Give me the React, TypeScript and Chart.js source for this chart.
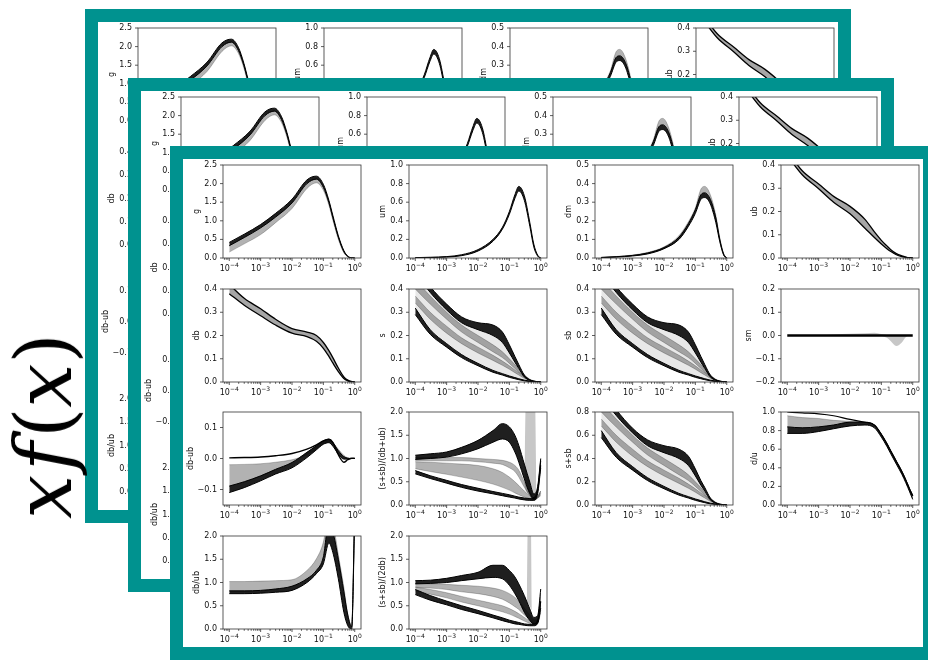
import React, { useEffect, useRef } from 'react';
import { Chart, registerables } from 'chart.js';
Chart.register(...registerables);

const TEAL = '#00928F';
const FONT = '"DejaVu Sans", sans-serif';

// common x grid (momentum fraction)
const XS = [1e-4, 3e-4, 1e-3, 3e-3, 1e-2, 3e-2, 0.06, 0.1, 0.15, 0.2, 0.3, 0.45, 0.6, 0.8, 1];
const XTICKS = [1e-4, 1e-3, 1e-2, 1e-1, 1];
const XTICK_EXP = ['−4', '−3', '−2', '−1', '0'];

// y tick sets
const YT_G = [0, 0.5, 1, 1.5, 2, 2.5];
const YT_1 = [0, 0.2, 0.4, 0.6, 0.8, 1];
const YT_05 = [0, 0.1, 0.2, 0.3, 0.4, 0.5];
const YT_04 = [0, 0.1, 0.2, 0.3, 0.4];
const YT_SM = [-0.2, -0.1, 0, 0.1, 0.2];
const YT_DBUB = [-0.1, 0, 0.1];
const YT_2 = [0, 0.5, 1, 1.5, 2];
const YT_08 = [0, 0.2, 0.4, 0.6, 0.8];

// g
const gUp = [0.42, 0.64, 0.9, 1.2, 1.58, 2.1, 2.2, 1.98, 1.55, 1.15, 0.6, 0.2, 0.05, 0.005, 0];
const gMid = [0.33, 0.55, 0.81, 1.1, 1.48, 2.0, 2.12, 1.9, 1.49, 1.09, 0.56, 0.17, 0.04, 0.003, 0];
const gLo = [0.16, 0.38, 0.63, 0.95, 1.33, 1.87, 2.02, 1.82, 1.42, 1.02, 0.5, 0.14, 0.03, 0, 0];
// um
const umUp = [0.004, 0.008, 0.015, 0.035, 0.09, 0.2, 0.33, 0.5, 0.68, 0.77, 0.67, 0.38, 0.15, 0.03, 0];
const umLo = [0.002, 0.005, 0.01, 0.025, 0.075, 0.18, 0.31, 0.47, 0.64, 0.72, 0.62, 0.34, 0.12, 0.02, 0];
// dm
const dmUp = [0.004, 0.008, 0.016, 0.03, 0.06, 0.12, 0.195, 0.27, 0.37, 0.385, 0.34, 0.23, 0.11, 0.025, 0];
const dmMid = [0.003, 0.007, 0.014, 0.027, 0.056, 0.112, 0.185, 0.26, 0.34, 0.35, 0.315, 0.215, 0.1, 0.02, 0];
const dmLo = [0.002, 0.005, 0.011, 0.022, 0.05, 0.1, 0.17, 0.24, 0.315, 0.325, 0.29, 0.19, 0.088, 0.015, 0];
// ub
const ubUp = [0.46, 0.375, 0.318, 0.265, 0.222, 0.166, 0.112, 0.076, 0.052, 0.036, 0.019, 0.009, 0.004, 0.001, 0];
const ubLo = [0.44, 0.358, 0.298, 0.24, 0.19, 0.128, 0.088, 0.06, 0.04, 0.028, 0.014, 0.006, 0.003, 0.001, 0];
// db
const dbUp = [0.42, 0.36, 0.315, 0.27, 0.23, 0.215, 0.2, 0.17, 0.135, 0.105, 0.06, 0.022, 0.008, 0.002, 0];
const dbLo = [0.38, 0.33, 0.285, 0.245, 0.21, 0.195, 0.175, 0.145, 0.11, 0.082, 0.045, 0.015, 0.005, 0, 0];
// s (and sb)
const sTopUp = [0.5, 0.41, 0.335, 0.28, 0.255, 0.245, 0.215, 0.16, 0.11, 0.075, 0.03, 0.01, 0.004, 0.001, 0];
const sTopLo = [0.47, 0.385, 0.31, 0.255, 0.225, 0.2, 0.17, 0.125, 0.085, 0.058, 0.022, 0.007, 0.003, 0.001, 0];
const sG1Up = [0.44, 0.37, 0.3, 0.245, 0.2, 0.16, 0.13, 0.1, 0.075, 0.055, 0.03, 0.012, 0.005, 0.001, 0];
const sG1Lo = [0.4, 0.335, 0.27, 0.215, 0.17, 0.13, 0.105, 0.08, 0.058, 0.042, 0.022, 0.008, 0.003, 0.001, 0];
const sG2Up = [0.37, 0.3, 0.24, 0.19, 0.15, 0.115, 0.09, 0.07, 0.052, 0.04, 0.022, 0.008, 0.003, 0, 0];
const sG2Lo = [0.34, 0.27, 0.21, 0.165, 0.125, 0.093, 0.072, 0.055, 0.04, 0.03, 0.016, 0.006, 0.002, 0, 0];
const sBotUp = [0.318, 0.225, 0.165, 0.118, 0.08, 0.05, 0.036, 0.026, 0.019, 0.014, 0.008, 0.004, 0.002, 0.001, 0];
const sBotLo = [0.29, 0.205, 0.15, 0.105, 0.07, 0.042, 0.03, 0.02, 0.014, 0.01, 0.005, 0.002, 0.001, 0, 0];
// sm
const smZero = [0, 0, 0, 0, 0, 0, 0, 0, 0, 0, 0, 0, 0, 0, 0];
const smUp = [0, 0, 0, 0.004, 0.007, 0.01, 0.012, 0.006, 0.002, 0, 0, 0, 0, 0, 0];
const smLo = [0, 0, 0, 0, 0, 0, 0, -0.002, -0.01, -0.025, -0.045, -0.03, -0.008, 0, 0];
// db-ub
const dbubTop = [0.002, 0.003, 0.005, 0.009, 0.016, 0.03, 0.044, 0.057, 0.062, 0.052, 0.012, -0.012, -0.004, 0.001, 0.001];
const dbubGrayUp = [-0.02, -0.019, -0.017, -0.012, -0.004, 0.012, 0.03, 0.048, 0.055, 0.05, 0.03, 0.01, 0.002, 0, 0];
const dbubBlkUp = [-0.089, -0.075, -0.056, -0.035, -0.013, 0.02, 0.041, 0.057, 0.062, 0.052, 0.025, 0.006, 0.001, 0, 0];
const dbubBlkLo = [-0.11, -0.094, -0.072, -0.05, -0.03, 0.003, 0.028, 0.046, 0.051, 0.04, 0.014, -0.002, -0.002, 0, 0];
// (s+sb)/(db+ub)
const r1TopUp = [1.07, 1.1, 1.14, 1.24, 1.39, 1.6, 1.75, 1.68, 1.5, 1.28, 0.88, 0.49, 0.24, 0.4, 1.0];
const r1TopLo = [0.98, 1.0, 1.03, 1.1, 1.21, 1.35, 1.42, 1.35, 1.14, 0.92, 0.56, 0.24, 0.13, 0.3, 0.85];
const r1AUp = [1.02, 1.02, 1.02, 1.02, 1.0, 0.98, 0.96, 0.92, 0.85, 0.75, 0.5, 0.28, 0.16, 0.2, 0.3];
const r1ALo = [0.95, 0.95, 0.95, 0.95, 0.93, 0.9, 0.87, 0.8, 0.72, 0.6, 0.38, 0.2, 0.12, 0.15, 0.2];
const r1BUp = [0.93, 0.92, 0.9, 0.88, 0.85, 0.78, 0.7, 0.6, 0.5, 0.42, 0.3, 0.2, 0.14, 0.18, 0.3];
const r1BLo = [0.78, 0.72, 0.66, 0.6, 0.53, 0.45, 0.38, 0.32, 0.26, 0.22, 0.17, 0.13, 0.1, 0.15, 0.25];
const r1BotUp = [0.74, 0.63, 0.53, 0.44, 0.36, 0.29, 0.25, 0.22, 0.19, 0.17, 0.15, 0.14, 0.16, 0.35, 0.95];
const r1BotLo = [0.67, 0.57, 0.47, 0.38, 0.3, 0.24, 0.2, 0.17, 0.15, 0.13, 0.11, 0.1, 0.1, 0.25, 0.8];
const r1SprayX = [0.3, 0.34, 0.65, 0.72];
const r1SprayUp = [0.5, 2.4, 2.4, 0.5];
const r1SprayLo = [0.45, 0.3, 0.2, 0.3];
// s+sb
const ssTopUp = [1.0, 0.82, 0.66, 0.56, 0.51, 0.48, 0.42, 0.31, 0.21, 0.15, 0.06, 0.02, 0.008, 0.002, 0];
const ssTopLo = [0.94, 0.77, 0.62, 0.51, 0.45, 0.4, 0.34, 0.25, 0.17, 0.12, 0.045, 0.014, 0.005, 0, 0];
const ssG1Up = [0.88, 0.74, 0.6, 0.49, 0.4, 0.32, 0.26, 0.2, 0.15, 0.11, 0.06, 0.024, 0.01, 0.002, 0];
const ssG1Lo = [0.8, 0.67, 0.54, 0.43, 0.34, 0.26, 0.21, 0.16, 0.116, 0.084, 0.044, 0.016, 0.006, 0.002, 0];
const ssG2Up = [0.74, 0.6, 0.48, 0.38, 0.3, 0.23, 0.18, 0.14, 0.104, 0.08, 0.044, 0.016, 0.006, 0, 0];
const ssG2Lo = [0.68, 0.54, 0.42, 0.33, 0.25, 0.186, 0.144, 0.11, 0.08, 0.06, 0.032, 0.012, 0.004, 0, 0];
const ssBotUp = [0.64, 0.45, 0.33, 0.235, 0.16, 0.1, 0.072, 0.052, 0.038, 0.028, 0.016, 0.008, 0.004, 0.001, 0];
const ssBotLo = [0.58, 0.41, 0.3, 0.21, 0.14, 0.085, 0.06, 0.04, 0.028, 0.02, 0.01, 0.005, 0.002, 0, 0];
// d/u
const duTop = [1.0, 0.99, 0.98, 0.96, 0.92, 0.89, 0.86, 0.76, 0.66, 0.58, 0.47, 0.36, 0.27, 0.17, 0.1];
const duGrayUp = [0.96, 0.94, 0.93, 0.91, 0.9, 0.89, 0.86, 0.76, 0.66, 0.58, 0.47, 0.36, 0.27, 0.17, 0.1];
const duBlkUp = [0.84, 0.83, 0.84, 0.86, 0.89, 0.89, 0.86, 0.76, 0.66, 0.58, 0.47, 0.36, 0.27, 0.17, 0.1];
const duBlkLo = [0.77, 0.77, 0.79, 0.82, 0.85, 0.86, 0.83, 0.73, 0.63, 0.55, 0.44, 0.33, 0.24, 0.14, 0.06];
// db/ub
const r2GrayUp = [1.02, 1.02, 1.03, 1.04, 1.06, 1.26, 1.51, 1.87, 2.5, 2.3, 1.6, 0.9, 0.33, 0.06, 2.7];
const r2BlkUp = [0.82, 0.82, 0.83, 0.86, 0.92, 1.08, 1.26, 1.55, 2.3, 2.1, 1.5, 0.8, 0.3, 0.05, 2.6];
const r2BlkLo = [0.76, 0.76, 0.77, 0.79, 0.83, 1.0, 1.19, 1.4, 1.85, 1.65, 1.08, 0.36, 0.07, 0.0, 2.4];
// (s+sb)/(2db)
const r3TopUp = [1.04, 1.05, 1.09, 1.15, 1.22, 1.37, 1.37, 1.26, 1.12, 0.97, 0.72, 0.43, 0.25, 0.29, 0.86];
const r3TopLo = [0.97, 0.98, 1.0, 1.04, 1.08, 1.11, 1.08, 0.94, 0.76, 0.61, 0.36, 0.18, 0.11, 0.14, 0.58];
const r3AUp = [0.98, 0.97, 0.96, 0.94, 0.92, 0.88, 0.83, 0.76, 0.68, 0.6, 0.45, 0.3, 0.2, 0.2, 0.5];
const r3ALo = [0.9, 0.88, 0.85, 0.8, 0.76, 0.7, 0.64, 0.56, 0.48, 0.42, 0.3, 0.2, 0.13, 0.15, 0.4];
const r3BUp = [0.9, 0.85, 0.78, 0.7, 0.62, 0.55, 0.5, 0.44, 0.38, 0.33, 0.25, 0.17, 0.12, 0.15, 0.4];
const r3BLo = [0.82, 0.75, 0.67, 0.58, 0.5, 0.42, 0.37, 0.32, 0.27, 0.23, 0.17, 0.12, 0.09, 0.12, 0.35];
const r3BotUp = [0.85, 0.72, 0.6, 0.5, 0.4, 0.3, 0.24, 0.19, 0.16, 0.14, 0.11, 0.1, 0.11, 0.2, 0.6];
const r3BotLo = [0.74, 0.62, 0.52, 0.42, 0.33, 0.24, 0.18, 0.14, 0.11, 0.1, 0.08, 0.07, 0.07, 0.12, 0.45];
const r3SprayX = [0.36, 0.39, 0.48, 0.52];
const r3SprayUp = [0.6, 2.4, 2.4, 0.5];
const r3SprayLo = [0.5, 0.55, 0.45, 0.4];

type Arr = (number | null)[];
type Kind = 'k' | 'gk' | 'g' | 'l' | 'sp' | 'line';
type Band = { up: Arr; lo?: Arr; kind: Kind; w?: number; xs?: number[] };
type PlotSpec = { label: string; min: number; max: number; ticks: number[]; bands: Band[] };

const PLOTS: PlotSpec[] = [
  { label: 'g', min: 0, max: 2.5, ticks: YT_G, bands: [
    { up: gMid, lo: gLo, kind: 'g' },
    { up: gUp, lo: gMid, kind: 'k' },
  ] },
  { label: 'um', min: 0, max: 1, ticks: YT_1, bands: [{ up: umUp, lo: umLo, kind: 'k' }] },
  { label: 'dm', min: 0, max: 0.5, ticks: YT_05, bands: [
    { up: dmUp, lo: dmMid, kind: 'g' },
    { up: dmMid, lo: dmLo, kind: 'k' },
  ] },
  { label: 'ub', min: 0, max: 0.4, ticks: YT_04, bands: [{ up: ubUp, lo: ubLo, kind: 'gk' }] },
  { label: 'db', min: 0, max: 0.4, ticks: YT_04, bands: [{ up: dbUp, lo: dbLo, kind: 'gk' }] },
  { label: 's', min: 0, max: 0.4, ticks: YT_04, bands: [
    { up: sTopLo, lo: sBotUp, kind: 'l' },
    { up: sG1Up, lo: sG1Lo, kind: 'g' },
    { up: sG2Up, lo: sG2Lo, kind: 'g' },
    { up: sTopUp, lo: sTopLo, kind: 'k' },
    { up: sBotUp, lo: sBotLo, kind: 'k' },
  ] },
  { label: 'sb', min: 0, max: 0.4, ticks: YT_04, bands: [
    { up: sTopLo, lo: sBotUp, kind: 'l' },
    { up: sG1Up, lo: sG1Lo, kind: 'g' },
    { up: sG2Up, lo: sG2Lo, kind: 'g' },
    { up: sTopUp, lo: sTopLo, kind: 'k' },
    { up: sBotUp, lo: sBotLo, kind: 'k' },
  ] },
  { label: 'sm', min: -0.2, max: 0.2, ticks: YT_SM, bands: [
    { up: smUp, lo: smLo, kind: 'sp' },
    { up: smZero, kind: 'line', w: 2.4 },
  ] },
  { label: 'db-ub', min: -0.15, max: 0.15, ticks: YT_DBUB, bands: [
    { up: dbubGrayUp, lo: dbubBlkUp, kind: 'g' },
    { up: dbubBlkUp, lo: dbubBlkLo, kind: 'k' },
    { up: dbubTop, kind: 'line', w: 1.4 },
  ] },
  { label: '(s+sb)/(db+ub)', min: 0, max: 2, ticks: YT_2, bands: [
    { up: r1SprayUp, lo: r1SprayLo, kind: 'sp', xs: r1SprayX },
    { up: r1AUp, lo: r1ALo, kind: 'g' },
    { up: r1BUp, lo: r1BLo, kind: 'g' },
    { up: r1TopUp, lo: r1TopLo, kind: 'k' },
    { up: r1BotUp, lo: r1BotLo, kind: 'k' },
  ] },
  { label: 's+sb', min: 0, max: 0.8, ticks: YT_08, bands: [
    { up: ssTopLo, lo: ssBotUp, kind: 'l' },
    { up: ssG1Up, lo: ssG1Lo, kind: 'g' },
    { up: ssG2Up, lo: ssG2Lo, kind: 'g' },
    { up: ssTopUp, lo: ssTopLo, kind: 'k' },
    { up: ssBotUp, lo: ssBotLo, kind: 'k' },
  ] },
  { label: 'd/u', min: 0, max: 1, ticks: YT_1, bands: [
    { up: duGrayUp, lo: duBlkUp, kind: 'g' },
    { up: duBlkUp, lo: duBlkLo, kind: 'k' },
    { up: duTop, kind: 'line', w: 1.2 },
  ] },
  { label: 'db/ub', min: 0, max: 2, ticks: YT_2, bands: [
    { up: r2GrayUp, lo: r2BlkUp, kind: 'g' },
    { up: r2BlkUp, lo: r2BlkLo, kind: 'k' },
  ] },
  { label: '(s+sb)/(2db)', min: 0, max: 2, ticks: YT_2, bands: [
    { up: r3SprayUp, lo: r3SprayLo, kind: 'sp', xs: r3SprayX },
    { up: r3AUp, lo: r3ALo, kind: 'g' },
    { up: r3BUp, lo: r3BLo, kind: 'g' },
    { up: r3TopUp, lo: r3TopLo, kind: 'k' },
    { up: r3BotUp, lo: r3BotLo, kind: 'k' },
  ] },
];

const STYLE: Record<Kind, { fill: string; border: string; width: number }> = {
  k: { fill: 'rgba(0,0,0,0.88)', border: '#000', width: 1 },
  gk: { fill: 'rgba(0,0,0,0.35)', border: '#000', width: 1.3 },
  g: { fill: 'rgba(0,0,0,0.3)', border: 'rgba(0,0,0,0.4)', width: 0.6 },
  l: { fill: 'rgba(0,0,0,0.09)', border: 'rgba(0,0,0,0)', width: 0 },
  sp: { fill: 'rgba(0,0,0,0.22)', border: 'rgba(0,0,0,0)', width: 0 },
  line: { fill: 'rgba(0,0,0,0)', border: '#000', width: 1.2 },
};

// geometry
const CW = 195, CH = 120, YW = 52, XH = 21, TOPPAD = 6, RIGHTPAD = 5;
const CARD_W = 766, CARD_H = 514, BORDER = 13;
const COL_PITCH = 186, ROW_PITCH = 123.7;

const fmtY = (v: number) => (v < 0 ? '−' : '') + Math.abs(v).toFixed(1);

const framePlugin = {
  id: 'frame',
  afterDraw(chart: any, _args: any, opts: any) {
    const { ctx, chartArea: a, scales } = chart;
    const x = scales.x, y = scales.y;
    ctx.save();
    ctx.strokeStyle = '#333';
    ctx.lineWidth = 0.8;
    ctx.strokeRect(a.left, a.top, a.right - a.left, a.bottom - a.top);
    ctx.beginPath();
    for (let e = -5; e <= 0; e++) {
      for (let k = 1; k <= 9; k++) {
        const v = k * Math.pow(10, e);
        if (v < x.min || v > x.max) continue;
        const px = x.getPixelForValue(v);
        ctx.moveTo(px, a.bottom);
        ctx.lineTo(px, a.bottom + (k === 1 ? 3 : 1.8));
      }
    }
    for (const t of opts.ticks as number[]) {
      const py = y.getPixelForValue(t);
      ctx.moveTo(a.left - 3, py);
      ctx.lineTo(a.left, py);
    }
    ctx.stroke();
    // x tick labels: 10 with raised exponent
    ctx.fillStyle = '#111';
    ctx.textBaseline = 'alphabetic';
    ctx.textAlign = 'left';
    XTICKS.forEach((v, i) => {
      const px = x.getPixelForValue(v);
      ctx.font = `8px ${FONT}`;
      const wb = ctx.measureText('10').width;
      ctx.font = `6px ${FONT}`;
      const we = ctx.measureText(XTICK_EXP[i]).width;
      const x0 = px - (wb + we) / 2;
      const base = a.bottom + 13;
      ctx.font = `8px ${FONT}`;
      ctx.fillText('10', x0, base);
      ctx.font = `6px ${FONT}`;
      ctx.fillText(XTICK_EXP[i], x0 + wb, base - 4);
    });
    // y label
    ctx.font = `8px ${FONT}`;
    let maxW = 0;
    for (const t of opts.ticks as number[]) maxW = Math.max(maxW, ctx.measureText(fmtY(t)).width);
    const cx = a.left - 6 - maxW - 3 - 4;
    ctx.translate(cx, (a.top + a.bottom) / 2);
    ctx.rotate(-Math.PI / 2);
    ctx.textAlign = 'center';
    ctx.textBaseline = 'middle';
    ctx.fillText(opts.label, 0, 0);
    ctx.restore();
  },
};

function buildDatasets(spec: PlotSpec) {
  const ds: any[] = [];
  const mk = (arr: Arr, xs: number[], kind: Kind, fill: any, w?: number) => ({
    data: xs.map((x, i) => ({ x, y: arr[i] })),
    borderColor: STYLE[kind].border,
    backgroundColor: STYLE[kind].fill,
    borderWidth: w ?? STYLE[kind].width,
    fill,
    pointRadius: 0,
    cubicInterpolationMode: 'monotone',
    spanGaps: false,
    clip: 0,
  });
  const bands = [...spec.bands].reverse();
  for (const b of bands) {
    const xs = b.xs ?? XS;
    if (b.kind === 'line' || !b.lo) {
      ds.push(mk(b.up, xs, b.kind, false, b.w));
    } else {
      ds.push(mk(b.up, xs, b.kind, '+1'));
      ds.push(mk(b.lo, xs, b.kind, false));
    }
  }
  return ds;
}

function SubPlot({ spec, left, top }: { spec: PlotSpec; left: number; top: number }) {
  const ref = useRef<HTMLCanvasElement>(null);
  useEffect(() => {
    const chart = new Chart(ref.current as HTMLCanvasElement, {
      type: 'line',
      data: { datasets: buildDatasets(spec) },
      options: {
        animation: false,
        responsive: false,
        maintainAspectRatio: false,
        events: [],
        layout: { padding: { left: 0, right: RIGHTPAD, top: TOPPAD, bottom: 0 } },
        plugins: {
          legend: { display: false },
          tooltip: { enabled: false },
          frame: { label: spec.label, ticks: spec.ticks },
        } as any,
        scales: {
          x: {
            type: 'logarithmic',
            min: Math.pow(10, -4.2),
            max: Math.pow(10, 0.2),
            afterBuildTicks: (s: any) => { s.ticks = XTICKS.map((v) => ({ value: v })); },
            afterFit: (s: any) => {
              s.height = XH;
              s.paddingLeft = 0; s.paddingRight = 0; s.paddingTop = 0; s.paddingBottom = 0;
            },
            ticks: { display: false },
            grid: { display: false, drawTicks: false, tickLength: 0 },
            border: { display: false },
          },
          y: {
            type: 'linear',
            min: spec.min,
            max: spec.max,
            afterBuildTicks: (s: any) => { s.ticks = spec.ticks.map((v) => ({ value: v })); },
            afterFit: (s: any) => {
              s.width = YW;
              s.paddingLeft = 0; s.paddingRight = 0; s.paddingTop = 0; s.paddingBottom = 0;
            },
            ticks: {
              padding: 6, color: '#111',
              font: { size: 8, family: FONT },
              callback: (v: any) => fmtY(Number(v)),
            },
            grid: { display: false, drawTicks: false, tickLength: 0 },
            border: { display: false },
          },
        },
      } as any,
      plugins: [framePlugin as any],
    });
    return () => chart.destroy();
  }, [spec]);
  return (
    <canvas
      ref={ref}
      width={CW}
      height={CH}
      style={{ position: 'absolute', left, top, width: CW, height: CH }}
    />
  );
}

function Card({ x, y }: { x: number; y: number }) {
  return (
    <div
      style={{
        position: 'absolute', left: x, top: y, width: CARD_W, height: CARD_H,
        boxSizing: 'border-box', border: `${BORDER}px solid ${TEAL}`, background: '#fff',
      }}
    >
      {PLOTS.map((p, i) => (
        <SubPlot
          key={i}
          spec={p}
          left={-12 + COL_PITCH * (i % 4)}
          top={Math.round(ROW_PITCH * Math.floor(i / 4))}
        />
      ))}
    </div>
  );
}

export default function App() {
  return (
    <div style={{ position: 'absolute', left: 0, top: 0, width: 928, height: 661, overflow: 'hidden', background: '#fff' }}>
      <Card x={85} y={9} />
      <Card x={128} y={78} />
      <Card x={170} y={146} />
      <div
        style={{
          position: 'absolute', left: 44, top: 426,
          transform: 'translate(-50%, -50%) rotate(-90deg)',
          fontFamily: '"DejaVu Serif", serif', fontSize: 78, lineHeight: 1,
          whiteSpace: 'nowrap', color: '#000',
        }}
      >
        <i>x</i>
        <i style={{ marginLeft: 4 }}>f</i>
        <span style={{ marginLeft: 4 }}>(</span>
        <i>x</i>
        <span>)</span>
      </div>
    </div>
  );
}
